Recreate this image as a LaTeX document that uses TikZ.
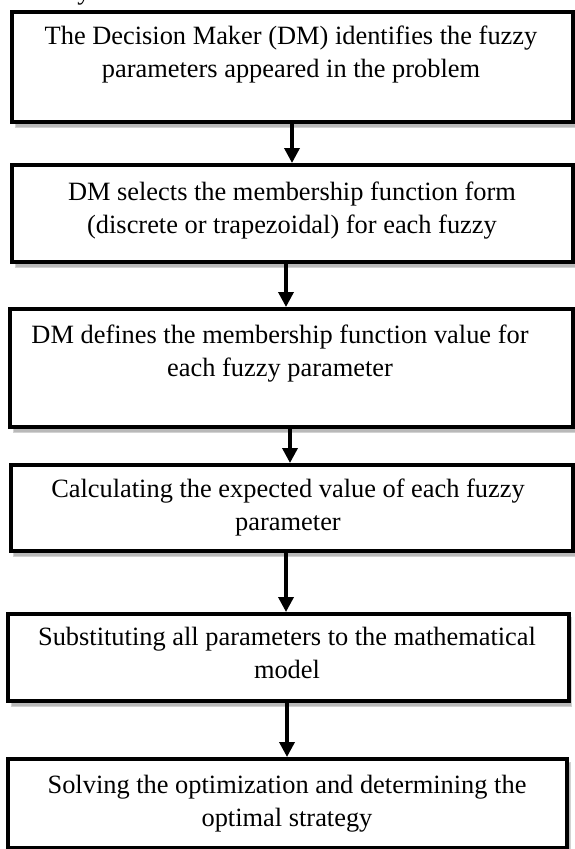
\documentclass[tikz,border=0pt]{standalone}
\usepackage{fontspec}
\setmainfont{Liberation Serif}
\usetikzlibrary{arrows.meta}

\tikzset{
  stepbox/.style={draw=black, line width=4pt, fill=white, rectangle, inner sep=0pt},
  boxshadow/.style={fill=gray!55, draw=gray!35, line width=1pt},
  steptext/.style={align=center, inner sep=0pt, font=\fontsize{26.4}{33}\selectfont},
  flow/.style={draw=black, line width=3.5pt, -{Triangle[width=15pt,length=15pt]}},
}

% a framed step: #1 name, #2 left, #3 top, #4 right, #5 bottom (border centre lines)
\newcommand{\flowstep}[5]{%
  \fill[boxshadow] (#2+5,#3+5) rectangle (#4+5,#5+7);
  \node[stepbox, anchor=north west, minimum width={#4-#2}, minimum height={#5-#3}]
    (#1) at (#2,#3) {};
}

\begin{document}
\begin{tikzpicture}[x=1pt, y=-1pt]
  \useasboundingbox (0,0) rectangle (574,849);
  \fill[white] (0,0) rectangle (574,849);

  % tail of a word from the line above the chart
  \node[steptext, anchor=base] (above) at (84,-1) {y};

  \flowstep{b1}{10}{10}{571}{120}
  \flowstep{b2}{10}{163}{571}{260}
  \flowstep{b3}{8}{307}{571}{425}
  \flowstep{b4}{8.5}{463}{571}{549}
  \flowstep{b5}{6}{612}{566.5}{699}
  \flowstep{b6}{6}{757}{565}{846}

  % each text is placed by the baseline of its last line
  \node[steptext, anchor=base] (t1) at (291,77)
    {The Decision Maker (DM) identifies the fuzzy\\parameters appeared in the problem};
  \node[steptext, anchor=base] (t2) at (292,233)
    {DM selects the membership function form\\(discrete or trapezoidal) for each fuzzy};
  \node[steptext, anchor=base] (t3) at (280,376)
    {DM defines the membership function value for\\each fuzzy parameter};
  \node[steptext, anchor=base] (t4) at (288,530)
    {Calculating the expected value of each fuzzy\\parameter};
  \node[steptext, anchor=base] (t5) at (287,678)
    {Substituting all parameters to the mathematical\\model};
  \node[steptext, anchor=base] (t6) at (287,826)
    {Solving the optimization and determining the\\optimal strategy};

  % columns of the connecting arrows
  \coordinate (a1) at (292,0);
  \coordinate (a2) at (286,0);
  \coordinate (a3) at (290,0);
  \coordinate (a4) at (286,0);
  \coordinate (a5) at (287,0);

  \draw[flow] (b1.south -| a1) -- (b2.north -| a1);
  \draw[flow] (b2.south -| a2) -- (b3.north -| a2);
  \draw[flow] (b3.south -| a3) -- (b4.north -| a3);
  \draw[flow] (b4.south -| a4) -- (b5.north -| a4);
  \draw[flow] (b5.south -| a5) -- (b6.north -| a5);
\end{tikzpicture}
\end{document}
